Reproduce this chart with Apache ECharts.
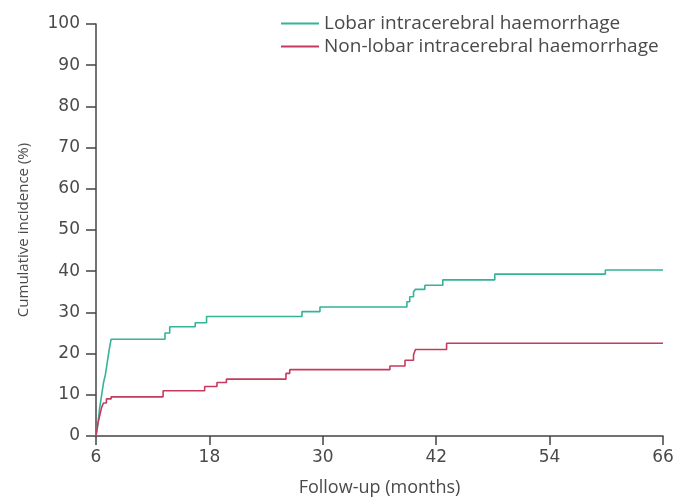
<!DOCTYPE html>
<html>
<head>
<meta charset="utf-8">
<script src="https://cdn.jsdelivr.net/npm/echarts@6/dist/echarts.min.js"></script>
<style>
  html, body { margin: 0; padding: 0; background: #fff; }
  #chart { width: 679px; height: 497px; }
</style>
</head>
<body>
<div id="chart"></div>
<script>
// 数据：累计发生率（阶梯）
const seriesNames = ['Lobar intracerebral haemorrhage', 'Non-lobar intracerebral haemorrhage']
const xTicks = [6, 18, 30, 42, 54, 66]

const lobarMonths = [6, 6.2, 6.4, 6.6, 6.8, 7.0, 7.2, 7.4, 7.6, 13.3, 13.8, 16.5, 17.7, 27.8, 29.7, 38.9, 39.2, 39.6, 39.8, 40.8, 42.7, 48.2, 59.9, 66]
const lobarPct = [0, 3, 7, 10, 13, 15, 18, 21, 23.5, 25, 26.5, 27.5, 29, 30.2, 31.3, 32.6, 33.8, 35.0, 35.6, 36.6, 37.9, 39.3, 40.3, 40.3]

const nonLobarMonths = [6, 6.2, 6.4, 6.6, 6.8, 7.1, 7.6, 13.1, 17.5, 18.8, 19.8, 26.1, 26.5, 37.1, 38.7, 39.6, 39.8, 43.1, 66]
const nonLobarPct = [0, 3, 5, 7, 8, 9, 9.5, 11, 12, 13, 13.8, 15.2, 16.1, 17, 18.4, 19.7, 21, 22.5, 22.5]

const pairs = (xs, ys) => xs.map((x, i) => [x, ys[i]])

const textColor = '#4a4a4a'
const axisColor = '#444'

const option = {
  animation: false,
  backgroundColor: '#fff',
  grid: { left: 96, right: 16, top: 24, bottom: 61, outerBoundsMode: 'none', containLabel: false },
  legend: {
    orient: 'vertical',
    left: 276,
    top: 9,
    itemWidth: 38,
    itemHeight: 2,
    itemGap: 4,
    icon: 'rect',
    textStyle: { fontFamily: 'Open Sans', fontSize: 19, color: textColor, lineHeight: 18, padding: [0, 0, 0, 0] },
    data: seriesNames
  },
  xAxis: {
    type: 'value',
    min: 6,
    max: 66,
    interval: 12,
    name: 'Follow-up (months)',
    nameLocation: 'middle',
    nameGap: 43,
    nameTextStyle: { fontFamily: 'Open Sans', fontSize: 18, color: textColor },
    axisLine: { show: true, lineStyle: { color: axisColor, width: 1.5 } },
    axisTick: { show: true, length: 9, lineStyle: { color: axisColor, width: 1.5 } },
    axisLabel: { fontFamily: 'DejaVu Sans', fontSize: 17, color: textColor, margin: 13 },
    splitLine: { show: false }
  },
  yAxis: {
    type: 'value',
    min: 0,
    max: 100,
    interval: 10,
    name: 'Cumulative incidence (%)',
    nameLocation: 'middle',
    nameGap: 65,
    nameTextStyle: { fontFamily: 'Open Sans', fontSize: 15, color: textColor },
    axisLine: { show: true, lineStyle: { color: axisColor, width: 1.5 } },
    axisTick: { show: true, length: 10, lineStyle: { color: axisColor, width: 1.5 } },
    axisLabel: { fontFamily: 'DejaVu Sans', fontSize: 17, color: textColor, margin: 16 },
    splitLine: { show: false }
  },
  series: [
    {
      name: seriesNames[0],
      type: 'line',
      step: 'end',
      symbol: 'none',
      color: '#34b398',
      lineStyle: { width: 1.6 },
      data: pairs(lobarMonths, lobarPct)
    },
    {
      name: seriesNames[1],
      type: 'line',
      step: 'end',
      symbol: 'none',
      color: '#c73a5e',
      lineStyle: { width: 1.6 },
      data: pairs(nonLobarMonths, nonLobarPct)
    }
  ]
}

const chart = echarts.init(document.getElementById('chart'))
chart.setOption(option)
</script>
</body>
</html>
